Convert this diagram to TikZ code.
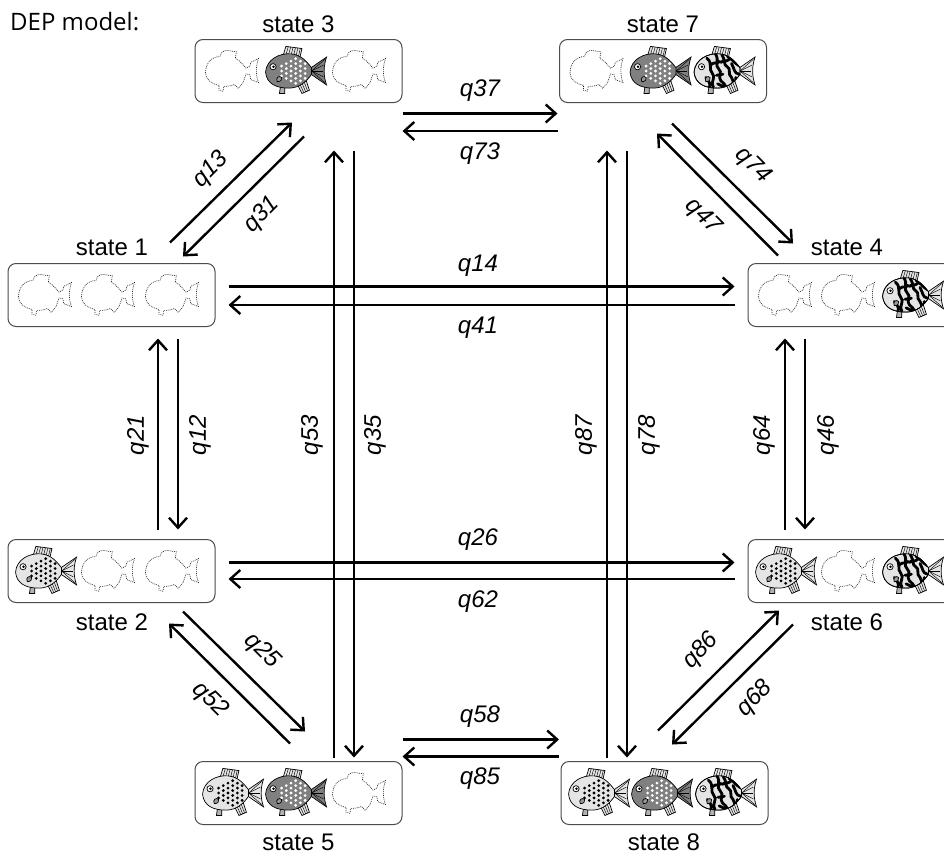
\documentclass[tikz,border=0pt]{standalone}
\usepackage{fontspec}
\setmainfont{Liberation Sans}
\newfontfamily\headfont{Open Sans}
\usetikzlibrary{arrows.meta,calc}

% ---------- fish drawing helpers (local units: 1pt, y pointing down) ----------
\newcommand\fishbodypath{(-28,1) .. controls (-27,-11) and (-15,-17) .. (-4,-16)
  .. controls (6,-15) and (11,-8) .. (15,-3) -- (15,3)
  .. controls (11,9) and (4,16) .. (-6,16)
  .. controls (-18,16) and (-27,12) .. (-28,1) -- cycle}

\newcommand\fishparts[1]{%
  % dorsal fin
  \filldraw[fishline, fill=black!10] (-12,-13) -- (-9,-23) -- (6,-21) -- (4,-12) -- cycle;
  \foreach \t in {0.15,0.3,0.45,0.6,0.75,0.9}
    \draw[line width=0.45pt] ($(-12,-13)!\t!(4,-12)$) -- ($(-9,-23)!\t!(6,-21)$);
  % rear ventral fin
  \filldraw[fishline, fill=black!10] (2,13) -- (6,21) -- (13,18) -- (10,9) -- cycle;
  \foreach \t in {0.25,0.5,0.75}
    \draw[line width=0.45pt] ($(2,13)!\t!(10,9)$) -- ($(6,21)!\t!(13,18)$);
  % front ventral fin
  \filldraw[fishline, fill=black!30] (-14,14) -- (-15,21) -- (-10,21) -- (-10,15) -- cycle;
  % tail
  \filldraw[fishline, fill=#1] (13,-2) -- (29,-13) .. controls (26,-4) and (26,4) .. (29,13) -- (13,2) -- cycle;
  \foreach \p in {(27.5,-11),(26,-5.5),(25.5,0),(26,5.5),(27.5,11)}
    \draw[line width=0.45pt] (15,0) -- \p;
}

\newcommand\fishspots[1]{%
  \foreach \i in {0,...,6}{\foreach \j in {-3,...,3}{%
    \pgfmathsetmacro\dx{-13+4.4*\i}%
    \pgfmathsetmacro\dy{4.6*\j+2.3*mod(\i,2)}%
    \pgfmathtruncatemacro\inside{((\dx+1.5)/13.5)^2+(\dy/12.5)^2<1 ? 1 : 0}%
    \ifnum\inside=1 \fill[#1] (\dx,\dy) circle (1.45);\fi
  }}%
}

\newcommand\fishmaze{%
  \begin{scope}
    \clip \fishbodypath;
    \draw[line width=2.8pt, line cap=round]
      (-16,-12) .. controls (-10,-7) and (-15,-2) .. (-11,2) .. controls (-7,6) and (-13,9) .. (-10,15)
      (-8,-16) .. controls (-4,-10) and (-9,-5) .. (-5,-2) .. controls (-1,1) and (-6,6) .. (-3,9) .. controls (-1,11) and (1,12) .. (2,16)
      (-2,-15) .. controls (2,-9) and (-1,-6) .. (3,-4) .. controls (7,-2) and (3,3) .. (7,6) .. controls (9,8) and (8,10) .. (9,14)
      (3,-14) .. controls (8,-11) and (10,-7) .. (14,-5)
      (-7,4) .. controls (-5,2) and (-3,5) .. (-1,3)
      (-12,-6) .. controls (-9,-9) and (-7,-6) .. (-4,-9)
      (7,-7) .. controls (10,-2) and (9,2) .. (14,3)
      (-17,6) .. controls (-14,10) and (-12,12) .. (-14,16)
      (-6,12) .. controls (-4,14) and (-2,13) .. (0,15)
      (11,6) .. controls (12,9) and (10,11) .. (12,13)
      (-3,-8) .. controls (0,-11) and (2,-8) .. (5,-11);
  \end{scope}
  \draw[fishline] \fishbodypath;
}

\newcommand\fisheye{%
  \filldraw[fishline, fill=white] (-21,-4) circle (2.9);
  \fill (-20.5,-4) circle (1.3);
  \filldraw[fishline, fill=black!40] (-17,10) .. controls (-19,6) and (-15,4) .. (-13,6)
    .. controls (-12,8) and (-14,10) .. (-17,10) -- cycle;
}

\newcommand\fishghost{%
  \draw[line width=0.65pt, black!85, dash pattern=on 0.9pt off 1pt, scale=0.9]
    (-28,2) .. controls (-28,-9) and (-21,-15) .. (-13,-15) .. controls (-12,-19) and (-10,-21) .. (-8,-21)
    .. controls (-4,-22) and (0,-20) .. (4,-20) -- (3,-13) .. controls (8,-11) and (11,-6) .. (14,-3)
    -- (18,-5) -- (19,-9) -- (27,-13) .. controls (24,-4) and (24,4) .. (27,12) -- (19,9) -- (18,4)
    -- (14,3) .. controls (13,6) and (12,9) .. (11,12) -- (6,18) -- (2,14)
    .. controls (-3,16) and (-7,16) .. (-9,16) -- (-10,21) -- (-14,20) -- (-14,15)
    .. controls (-22,13) and (-28,9) .. (-28,2) -- cycle;
}

\tikzset{
  fishline/.style={draw=black, line width=0.7pt},
  fishA/.pic={\fishparts{black!10}\filldraw[fishline, fill=black!10] \fishbodypath; \fishspots{black}\fisheye},
  fishB/.pic={\fishparts{black!50}\filldraw[fishline, fill=black!50] \fishbodypath; \fishspots{white}\fisheye},
  fishC/.pic={\fishparts{black!10}\filldraw[fishline, fill=black!10] \fishbodypath; \fishmaze\fisheye},
  fishE/.pic={\fishghost},
  fishpos/.style={scale=1.07},
  statebox/.style={draw=black!70, line width=1pt, rounded corners=8pt,
    minimum width=207pt, minimum height=63pt, inner sep=0pt},
  statename/.style={font=\fontsize{24}{28}\selectfont, inner sep=0pt},
  rate/.style={font=\fontsize{24}{28}\selectfont\itshape, inner sep=0pt},
  trans/.style={line width=2.4pt, -{Straight Barb[length=10pt,width=18pt]}},
}

\begin{document}
\begin{tikzpicture}[x=1pt,y=-1pt]
\useasboundingbox (0,0) rectangle (944,854);
\clip (0,0) rectangle (944,854);
\fill[white] (0,0) rectangle (944,854);

\node[anchor=west, inner sep=0pt, font=\headfont\fontsize{24}{28}\selectfont] (title) at (10,22) {DEP model:};

% ---------- state boxes ----------
\node[statebox] (s1) at (111.5,295) {};
\node[statebox] (s2) at (111.5,571) {};
\node[statebox] (s3) at (298.5,71) {};
\node[statebox] (s4) at (851.5,295) {};
\node[statebox] (s5) at (298.5,793) {};
\node[statebox] (s6) at (851.5,571) {};
\node[statebox] (s7) at (663,71) {};
\node[statebox] (s8) at (664.5,793) {};

\node[statename] (n1) at (112,247) {state 1};
\node[statename] (n2) at (112,622) {state 2};
\node[statename] (n3) at (298.5,24) {state 3};
\node[statename] (n4) at (847,247) {state 4};
\node[statename] (n5) at (298.5,842) {state 5};
\node[statename] (n6) at (847,622) {state 6};
\node[statename] (n7) at (663,24) {state 7};
\node[statename] (n8) at (664,842) {state 8};

% ---------- fish in each state ----------
\pic[fishpos] at ([xshift=-66pt]s1.center) {fishE};
\pic[fishpos] at ([xshift=-3pt]s1.center) {fishE};
\pic[fishpos] at ([xshift=61pt]s1.center) {fishE};

\pic[fishpos] at ([xshift=-66pt]s2.center) {fishA};
\pic[fishpos] at ([xshift=-3pt]s2.center) {fishE};
\pic[fishpos] at ([xshift=61pt]s2.center) {fishE};

\pic[fishpos] at ([xshift=-66pt]s3.center) {fishE};
\pic[fishpos] at ([xshift=-3pt]s3.center) {fishB};
\pic[fishpos] at ([xshift=61pt]s3.center) {fishE};

\pic[fishpos] at ([xshift=-66pt]s4.center) {fishE};
\pic[fishpos] at ([xshift=-3pt]s4.center) {fishE};
\pic[fishpos] at ([xshift=61pt]s4.center) {fishC};

\pic[fishpos] at ([xshift=-66pt]s5.center) {fishA};
\pic[fishpos] at ([xshift=-3pt]s5.center) {fishB};
\pic[fishpos] at ([xshift=61pt]s5.center) {fishE};

\pic[fishpos] at ([xshift=-66pt]s6.center) {fishA};
\pic[fishpos] at ([xshift=-3pt]s6.center) {fishE};
\pic[fishpos] at ([xshift=61pt]s6.center) {fishC};

\pic[fishpos] at ([xshift=-66pt]s7.center) {fishE};
\pic[fishpos] at ([xshift=-3pt]s7.center) {fishB};
\pic[fishpos] at ([xshift=61pt]s7.center) {fishC};

\pic[fishpos] at ([xshift=-66pt]s8.center) {fishA};
\pic[fishpos] at ([xshift=-3pt]s8.center) {fishB};
\pic[fishpos] at ([xshift=61pt]s8.center) {fishC};

% ---------- horizontal transitions ----------
\draw[trans] ([shift={(0,10.5)}]s3.south east) -- ([shift={(-1.5,10.5)}]s7.south west);
\draw[trans] ([shift={(-1.5,28)}]s7.south west) -- ([shift={(0,28)}]s3.south east);
\draw[trans] ([shift={(13,-8.5)}]s1.east) -- ([shift={(-13,-8.5)}]s4.west);
\draw[trans] ([shift={(-13,10)}]s4.west) -- ([shift={(13,10)}]s1.east);
\draw[trans] ([shift={(13,-8.5)}]s2.east) -- ([shift={(-13,-8.5)}]s6.west);
\draw[trans] ([shift={(-13,8)}]s6.west) -- ([shift={(13,8)}]s2.east);
\draw[trans] ([shift={(0,-21.5)}]s5.north east) -- ([shift={(-1.5,-21.5)}]s8.north west);
\draw[trans] ([shift={(-1.5,-4.5)}]s8.north west) -- ([shift={(0,-4.5)}]s5.north east);

% ---------- vertical transitions ----------
\draw[trans] ([shift={(46.5,-9.5)}]s2.north) -- ([shift={(46.5,11.5)}]s1.south);
\draw[trans] ([shift={(66.5,11.5)}]s1.south) -- ([shift={(66.5,-9.5)}]s2.north);
\draw[trans] ([shift={(35.5,-3.5)}]s5.north) -- ([shift={(35.5,47.5)}]s3.south);
\draw[trans] ([shift={(55.5,47.5)}]s3.south) -- ([shift={(55.5,-3.5)}]s5.north);
\draw[trans] ([shift={(-57.5,-3.5)}]s8.north) -- ([shift={(-56,47.5)}]s7.south);
\draw[trans] ([shift={(-36,47.5)}]s7.south) -- ([shift={(-37.5,-3.5)}]s8.north);
\draw[trans] ([shift={(-66.5,-9.5)}]s6.north) -- ([shift={(-66.5,11.5)}]s4.south);
\draw[trans] ([shift={(-46.5,11.5)}]s4.south) -- ([shift={(-46.5,-9.5)}]s6.north);

% ---------- diagonal transitions ----------
\draw[trans] ([shift={(58.5,-20.5)}]s1.north) -- ([shift={(-6.5,19.5)}]s3.south);
\draw[trans] ([shift={(5.5,33.5)}]s3.south) -- ([shift={(71.5,-6.5)}]s1.north);
\draw[trans] ([shift={(9,20.5)}]s7.south) -- ([shift={(-58.5,-19.5)}]s4.north);
\draw[trans] ([shift={(-73.5,-7.5)}]s4.north) -- ([shift={(-6,30.5)}]s7.south);
\draw[trans] ([shift={(71.5,8.5)}]s2.south) -- ([shift={(6.5,-29.5)}]s5.north);
\draw[trans] ([shift={(-8.5,-17.5)}]s5.north) -- ([shift={(57.5,20.5)}]s2.south);
\draw[trans] ([shift={(-6.5,-30.5)}]s8.north) -- ([shift={(-72.5,7.5)}]s6.south);
\draw[trans] ([shift={(-58.5,21.5)}]s6.south) -- ([shift={(7.5,-16.5)}]s8.north);

% ---------- rate labels ----------
\node[rate] (q37) at (480,91) {q37};
\node[rate] (q73) at (480,154) {q73};
\node[rate] (q14) at (478,266) {q14};
\node[rate] (q41) at (478,328) {q41};
\node[rate] (q26) at (478,540) {q26};
\node[rate] (q62) at (478,602) {q62};
\node[rate] (q58) at (480,717) {q58};
\node[rate] (q85) at (480,779) {q85};

\node[rate, rotate=90] (q21) at (138,435) {q21};
\node[rate, rotate=90] (q12) at (200,435) {q12};
\node[rate, rotate=90] (q53) at (312,435) {q53};
\node[rate, rotate=90] (q35) at (375,435) {q35};
\node[rate, rotate=90] (q87) at (586,435) {q87};
\node[rate, rotate=90] (q78) at (649,435) {q78};
\node[rate, rotate=90] (q64) at (764,435) {q64};
\node[rate, rotate=90] (q46) at (828,435) {q46};

\node[rate, rotate=45] (q13) at (211,170) {q13};
\node[rate, rotate=45] (q31) at (262,215) {q31};
\node[rate, rotate=-45] (q74) at (753,166) {q74};
\node[rate, rotate=-45] (q47) at (703,217) {q47};
\node[rate, rotate=-45] (q25) at (262,651) {q25};
\node[rate, rotate=-45] (q52) at (210,700) {q52};
\node[rate, rotate=45] (q86) at (701,651) {q86};
\node[rate, rotate=45] (q68) at (755,699) {q68};
\end{tikzpicture}
\end{document}
